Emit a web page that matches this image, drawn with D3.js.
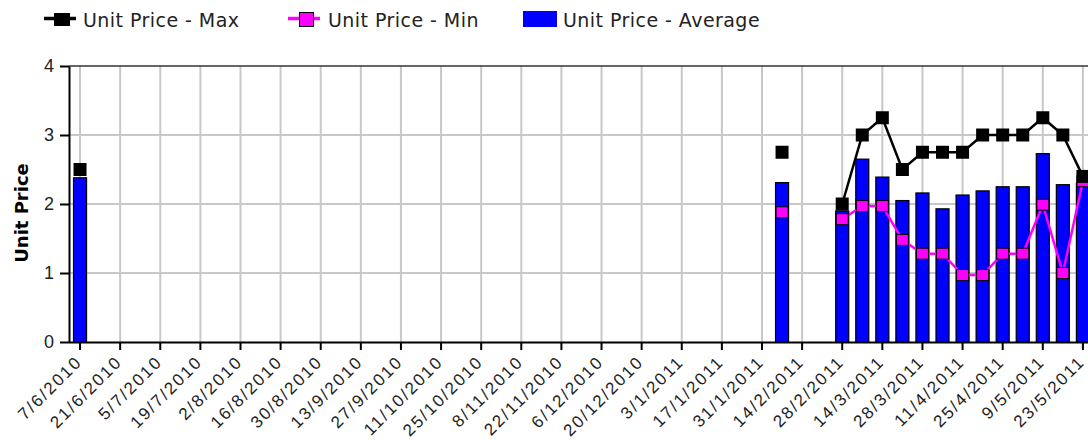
<!DOCTYPE html>
<html>
<head>
<meta charset="utf-8">
<script src="https://cdn.jsdelivr.net/npm/d3@7"></script>
<style>
  body { margin: 0; background: #fff; }
  svg { display: block; font-family: "DejaVu Sans", Verdana, sans-serif; }
</style>
</head>
<body>
<svg id="chart" width="1088" height="440"></svg>
<script>
// weekly categories
const weeks = ["7/6/2010","14/6/2010","21/6/2010","28/6/2010","5/7/2010","12/7/2010","19/7/2010","26/7/2010",
  "2/8/2010","9/8/2010","16/8/2010","23/8/2010","30/8/2010","6/9/2010","13/9/2010","20/9/2010","27/9/2010",
  "4/10/2010","11/10/2010","18/10/2010","25/10/2010","1/11/2010","8/11/2010","15/11/2010","22/11/2010","29/11/2010",
  "6/12/2010","13/12/2010","20/12/2010","27/12/2010","3/1/2011","10/1/2011","17/1/2011","24/1/2011","31/1/2011",
  "7/2/2011","14/2/2011","21/2/2011","28/2/2011","7/3/2011","14/3/2011","21/3/2011","28/3/2011","4/4/2011",
  "11/4/2011","18/4/2011","25/4/2011","2/5/2011","9/5/2011","16/5/2011","23/5/2011","30/5/2011"];

// labelled every second week
const tickLabels = ["7/6/2010","21/6/2010","5/7/2010","19/7/2010","2/8/2010","16/8/2010","30/8/2010","13/9/2010",
  "27/9/2010","11/10/2010","25/10/2010","8/11/2010","22/11/2010","6/12/2010","20/12/2010","3/1/2011","17/1/2011",
  "31/1/2011","14/2/2011","28/2/2011","14/3/2011","28/3/2011","11/4/2011","25/4/2011","9/5/2011","23/5/2011"];

const avgPrice = [2.38,
  null,null,null,null,null,null,null,null,null,null,null,null,null,null,null,null,null,
  null,null,null,null,null,null,null,null,null,null,null,null,null,null,null,null,null,
  2.31, null, null,
  1.9, 2.65, 2.39, 2.05, 2.16, 1.93, 2.13, 2.19, 2.25, 2.25, 2.73, 2.28, 2.3,
  null];

const maxPrice = [2.5,
  null,null,null,null,null,null,null,null,null,null,null,null,null,null,null,null,null,
  null,null,null,null,null,null,null,null,null,null,null,null,null,null,null,null,null,
  2.75, null, null,
  2.0, 3.0, 3.25, 2.5, 2.75, 2.75, 2.75, 3.0, 3.0, 3.0, 3.25, 3.0, 2.4,
  null];

const minPrice = [null,
  null,null,null,null,null,null,null,null,null,null,null,null,null,null,null,null,null,
  null,null,null,null,null,null,null,null,null,null,null,null,null,null,null,null,null,
  1.88, null, null,
  1.78, 1.97, 1.97, 1.48, 1.28, 1.28, 0.97, 0.97, 1.28, 1.28, 1.99, 1.0, 2.33,
  null];

const yTicks = [0, 1, 2, 3, 4];

const svg = d3.select("#chart");
const plotTop = 66, plotBottom = 342, plotLeft = 69, plotRight = 1113;

const x = d3.scaleBand()
  .domain(weeks)
  .range([70, plotRight])
  .paddingInner(0.35)
  .paddingOuter(0.175);

const y = d3.scaleLinear()
  .domain([0, 4])
  .range([plotBottom, plotTop]);

const cx = d => x(d) + x.bandwidth() / 2;

// grid
svg.append("g")
  .selectAll("line")
  .data(tickLabels)
  .join("line")
    .attr("x1", d => cx(d)).attr("x2", d => cx(d))
    .attr("y1", plotTop).attr("y2", plotBottom)
    .style("stroke", "#c8c8c8").style("stroke-width", 2);

svg.append("g")
  .selectAll("line")
  .data(yTicks.filter(v => v > 0 && v < 4))
  .join("line")
    .attr("x1", plotLeft).attr("x2", plotRight)
    .attr("y1", d => y(d)).attr("y2", d => y(d))
    .style("stroke", "#c8c8c8").style("stroke-width", 2);

// top border
svg.append("line")
  .attr("x1", plotLeft).attr("x2", plotRight)
  .attr("y1", plotTop).attr("y2", plotTop)
  .style("stroke", "#333").style("stroke-width", 1.5);

// bars
const rows = weeks.map((w, i) => ({ w: w, avg: avgPrice[i], max: maxPrice[i], min: minPrice[i] }));

svg.append("g")
  .selectAll("rect")
  .data(rows.filter(d => d.avg != null))
  .join("rect")
    .attr("x", d => x(d.w))
    .attr("y", d => y(d.avg))
    .attr("width", x.bandwidth())
    .attr("height", d => y(0) - y(d.avg))
    .style("fill", "#0000ff")
    .style("stroke", "#000")
    .style("stroke-width", 1.2);

// min line
svg.append("path")
  .datum(rows)
  .attr("d", d3.line().defined(d => d.min != null).x(d => cx(d.w)).y(d => y(d.min)))
  .style("fill", "none").style("stroke", "#ff00ff").style("stroke-width", 2.5);

svg.append("g")
  .selectAll("rect")
  .data(rows.filter(d => d.min != null))
  .join("rect")
    .attr("x", d => cx(d.w) - 6)
    .attr("y", d => y(d.min) - 5.5)
    .attr("width", 12).attr("height", 11)
    .style("fill", "#ff00ff").style("stroke", "#000").style("stroke-width", 1);

// max line
svg.append("path")
  .datum(rows)
  .attr("d", d3.line().defined(d => d.max != null).x(d => cx(d.w)).y(d => y(d.max)))
  .style("fill", "none").style("stroke", "#000").style("stroke-width", 2.5);

svg.append("g")
  .selectAll("rect")
  .data(rows.filter(d => d.max != null))
  .join("rect")
    .attr("x", d => cx(d.w) - 6.5)
    .attr("y", d => y(d.max) - 6.5)
    .attr("width", 13).attr("height", 13)
    .style("fill", "#000");

// axes
const yAxis = svg.append("g")
  .attr("transform", `translate(${plotLeft},0)`)
  .call(d3.axisLeft(y).tickValues(yTicks).tickFormat(d3.format("d")).tickSize(9).tickSizeOuter(0).tickPadding(6));
yAxis.selectAll("text").style("font-size", "18px").style("fill", "#222");

const xAxis = svg.append("g")
  .attr("transform", `translate(0,${plotBottom})`)
  .call(d3.axisBottom(x).tickValues(tickLabels).tickSize(8).tickSizeOuter(0));
xAxis.select(".domain").attr("d", `M${plotLeft},0.5H${plotRight}`);
xAxis.selectAll("text")
  .attr("y", 0).attr("dy", 0)
  .attr("transform", "translate(3,21) rotate(-45)")
  .style("text-anchor", "end")
  .style("font-size", "17px")
  .style("letter-spacing", "2px")
  .style("fill", "#222");

svg.selectAll(".domain, .tick line").style("stroke", "#000").style("stroke-width", 2);

// y title
svg.append("text")
  .attr("transform", "translate(28,213) rotate(-90)")
  .attr("text-anchor", "middle")
  .style("font-size", "18px")
  .style("font-weight", "bold")
  .text("Unit Price");

// legend
const legend = svg.append("g").style("font-size", "19px").style("letter-spacing", "0.45px").style("fill", "#222");

legend.append("line").attr("x1", 44).attr("x2", 76).attr("y1", 18.5).attr("y2", 18.5)
  .style("stroke", "#000").style("stroke-width", 3.5);
legend.append("rect").attr("x", 54).attr("y", 13).attr("width", 16).attr("height", 13).style("fill", "#000");
legend.append("text").attr("x", 83).attr("y", 27).text("Unit Price - Max");

legend.append("line").attr("x1", 288).attr("x2", 320).attr("y1", 18.5).attr("y2", 18.5)
  .style("stroke", "#ff00ff").style("stroke-width", 3.5);
legend.append("rect").attr("x", 299.5).attr("y", 12.5).attr("width", 14).attr("height", 14)
  .style("fill", "#ff00ff").style("stroke", "#000").style("stroke-width", 1);
legend.append("text").attr("x", 328).attr("y", 27).text("Unit Price - Min");

legend.append("rect").attr("x", 523).attr("y", 11).attr("width", 34).attr("height", 16).style("fill", "#0000ff");
legend.append("text").attr("x", 563).attr("y", 27).text("Unit Price - Average");
</script>
</body>
</html>
